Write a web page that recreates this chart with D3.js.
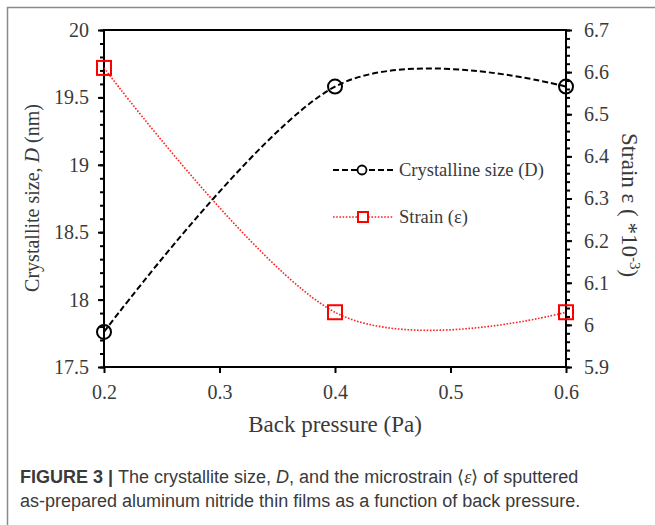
<!DOCTYPE html>
<html>
<head>
<meta charset="utf-8">
<script src="https://cdn.jsdelivr.net/npm/d3@7"></script>
<style>
  body { margin: 0; background: #fff; }
  svg { display: block; }
</style>
</head>
<body>
<div id="chart"></div>
<script>
// data
var pressure = [0.2, 0.4, 0.6];
var crystalliteSize = [17.76, 19.58, 19.58];
var strain = [6.61, 6.03, 6.03];
var xTicks = [0.2, 0.3, 0.4, 0.5, 0.6];
var leftTicks = [17.5, 18, 18.5, 19, 19.5, 20];
var rightTicks = [5.9, 6.0, 6.1, 6.2, 6.3, 6.4, 6.5, 6.6, 6.7];
var legendLabels = ["Crystalline size (D)", "Strain (\u03b5)"];

var width = 655, height = 525;
var plotLeft = 104, plotRight = 566, plotTop = 30, plotBottom = 367;

var svg = d3.select("#chart").append("svg")
    .attr("width", width).attr("height", height);

// outer figure frame
svg.append("path")
    .attr("d", "M7.5,525V7.5H655")
    .attr("fill", "none").attr("stroke", "#8a8a8a").attr("stroke-width", 1.5);

var x = d3.scaleLinear().domain([0.2, 0.6]).range([plotLeft, plotRight]);
var yL = d3.scaleLinear().domain([17.5, 20]).range([plotBottom, plotTop]);
var yR = d3.scaleLinear().domain([5.9, 6.7]).range([plotBottom, plotTop]);

var serif = "'Liberation Serif', 'Times New Roman', serif";

function styleAxis(g) {
    g.select(".domain").remove();
    g.selectAll(".tick line").attr("stroke", "#000").attr("stroke-width", 2);
    g.selectAll("text").attr("fill", "#3a3a3a").style("font-family", serif).style("font-size", "20px");
}

// minor ticks
svg.append("g").attr("transform", "translate(" + plotLeft + ",0)")
    .call(d3.axisLeft(yL).tickValues(d3.range(17.5, 20.001, 0.1)).tickSize(4).tickFormat(""))
    .call(styleAxis);
svg.append("g").attr("transform", "translate(" + plotRight + ",0)")
    .call(d3.axisRight(yR).tickValues(d3.range(5.9, 6.7001, 0.02)).tickSize(4).tickFormat(""))
    .call(styleAxis);

// major ticks
svg.append("g").attr("transform", "translate(" + plotLeft + ",0)")
    .call(d3.axisLeft(yL).tickValues(leftTicks).tickSize(6).tickPadding(9).tickFormat(function(d) { return String(d); }))
    .call(styleAxis);
svg.append("g").attr("transform", "translate(" + plotRight + ",0)")
    .call(d3.axisRight(yR).tickValues(rightTicks).tickSize(6).tickPadding(12).tickFormat(function(d) { return String(+d.toFixed(1)); }))
    .call(styleAxis);
svg.append("g").attr("transform", "translate(0," + plotBottom + ")")
    .call(d3.axisBottom(x).tickValues(xTicks).tickSize(6).tickPadding(12).tickFormat(function(d) { return String(d); }))
    .call(styleAxis);

// plot frame
svg.append("rect")
    .attr("x", plotLeft).attr("y", plotTop)
    .attr("width", plotRight - plotLeft).attr("height", plotBottom - plotTop)
    .attr("fill", "none").attr("stroke", "#000").attr("stroke-width", 2);

// axis titles
svg.append("text")
    .attr("transform", "translate(39,198) rotate(-90)")
    .attr("text-anchor", "middle")
    .style("font-family", serif).style("font-size", "20px").attr("fill", "#3a3a3a")
    .html("Crystallite size, <tspan font-style='italic'>D</tspan> (nm)");

svg.append("text")
    .attr("transform", "translate(622,205) rotate(90)")
    .attr("text-anchor", "middle")
    .style("font-family", serif).style("font-size", "23px").attr("fill", "#3a3a3a")
    .html("Strain \u03b5 ( *10<tspan dy='-8' font-size='15px'>-3</tspan><tspan dy='8'>)</tspan>");

svg.append("text")
    .attr("x", (plotLeft + plotRight) / 2).attr("y", 432)
    .attr("text-anchor", "middle")
    .style("font-family", serif).style("font-size", "23px").attr("fill", "#3a3a3a")
    .text("Back pressure (Pa)");

// series
var curve = d3.curveCardinal.tension(0);
var sizeData = pressure.map(function(p, i) { return [p, crystalliteSize[i]]; });
var strainData = pressure.map(function(p, i) { return [p, strain[i]]; });

svg.append("path")
    .datum(strainData)
    .attr("d", d3.line().x(function(d) { return x(d[0]); }).y(function(d) { return yR(d[1]); }).curve(curve))
    .attr("fill", "none").attr("stroke", "#ff2020").attr("stroke-width", 1.6)
    .attr("stroke-dasharray", "1.6,1.6");

svg.append("path")
    .datum(sizeData)
    .attr("d", d3.line().x(function(d) { return x(d[0]); }).y(function(d) { return yL(d[1]); }).curve(curve))
    .attr("fill", "none").attr("stroke", "#000").attr("stroke-width", 2)
    .attr("stroke-dasharray", "6,3");

svg.selectAll(".sq").data(strainData).enter().append("rect")
    .attr("x", function(d) { return x(d[0]) - 7; })
    .attr("y", function(d) { return yR(d[1]) - 7; })
    .attr("width", 14).attr("height", 14)
    .attr("fill", "none").attr("stroke", "#ff0000").attr("stroke-width", 2);

svg.selectAll(".ci").data(sizeData).enter().append("circle")
    .attr("cx", function(d) { return x(d[0]); })
    .attr("cy", function(d) { return yL(d[1]); })
    .attr("r", 7)
    .attr("fill", "none").attr("stroke", "#000").attr("stroke-width", 2);

// legend
var leg = svg.append("g");
leg.append("line").attr("x1", 333).attr("x2", 393).attr("y1", 170).attr("y2", 170)
    .attr("stroke", "#000").attr("stroke-width", 2).attr("stroke-dasharray", "6,3");
leg.append("circle").attr("cx", 362).attr("cy", 170).attr("r", 4.5)
    .attr("fill", "#fff").attr("stroke", "#000").attr("stroke-width", 1.8);
leg.append("line").attr("x1", 333).attr("x2", 393).attr("y1", 217).attr("y2", 217)
    .attr("stroke", "#ff2020").attr("stroke-width", 1.6).attr("stroke-dasharray", "1.6,1.6");
leg.append("rect").attr("x", 358).attr("y", 212).attr("width", 10).attr("height", 10)
    .attr("fill", "#fff").attr("stroke", "#ff0000").attr("stroke-width", 2);
leg.selectAll("text").data(legendLabels).enter().append("text")
    .attr("x", 399).attr("y", function(d, i) { return 176 + i * 47; })
    .style("font-family", serif).style("font-size", "18.5px").attr("fill", "#3a3a3a")
    .text(function(d) { return d; });

// caption
var sans = "'Liberation Sans', Arial, sans-serif";
var cap1 = svg.append("text").attr("x", 20).attr("y", 483)
    .style("font-family", sans).style("font-size", "18px").attr("fill", "#3a3a3a");
cap1.append("tspan").attr("font-weight", "bold").text("FIGURE 3 | ");
cap1.append("tspan").text("The crystallite size, ");
cap1.append("tspan").attr("font-style", "italic").text("D");
cap1.append("tspan").text(", and the microstrain \u27e8");
cap1.append("tspan").attr("font-style", "italic").style("font-family", serif).text("\u03b5");
cap1.append("tspan").text("\u27e9 of sputtered");

svg.append("text").attr("x", 20).attr("y", 507)
    .style("font-family", sans).style("font-size", "18px").attr("fill", "#3a3a3a")
    .text("as-prepared aluminum nitride thin films as a function of back pressure.");
</script>
</body>
</html>
